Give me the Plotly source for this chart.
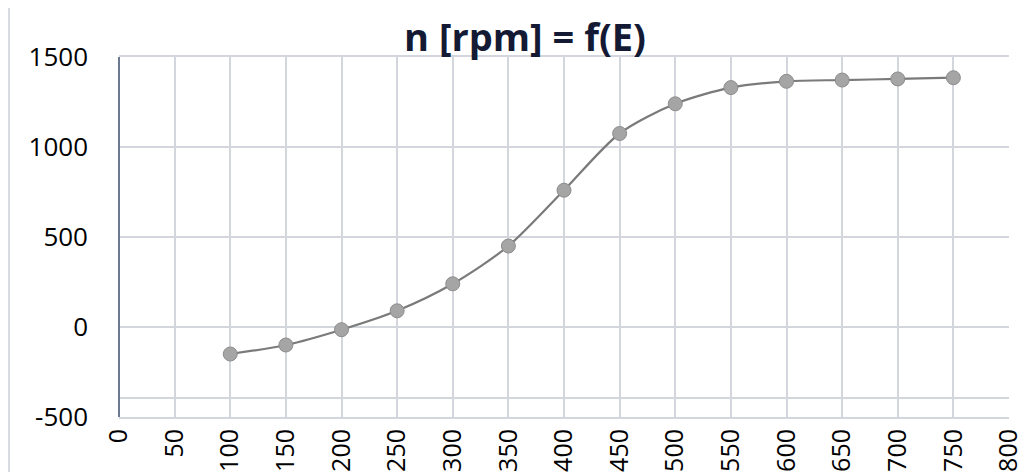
import plotly.graph_objects as go

E_values = [100, 150, 200, 250, 300, 350, 400, 450, 500, 550, 600, 650, 700, 750]
n_rpm = [-150, -100, -15, 90, 240, 450, 760, 1075, 1240, 1330, 1365, 1372, 1378, 1385]
x_ticks = list(range(0, 801, 50))
y_ticks = [-500, 0, 500, 1000, 1500]
title_text = "n [rpm] = f(E)"

grid = "#d3d6dd"
W, H = 1020, 464  # page has 8px body margin

fig = go.Figure()
fig.add_trace(go.Scatter(
    x=E_values, y=n_rpm, mode="lines+markers",
    line=dict(color="#7a7a7a", width=2.2, shape="spline", smoothing=0.8),
    marker=dict(size=14, color="#a5a5a5", line=dict(color="#8c8c8c", width=1)),
    showlegend=False,
))

fig.update_layout(
    width=W, height=H,
    margin=dict(l=111, r=19, t=49, b=55, autoexpand=False),
    paper_bgcolor="white", plot_bgcolor="white",
    title=dict(text="<b>" + title_text + "</b>", x=517 / W, xanchor="center",
               y=1 - 30 / H, yanchor="middle", automargin=False,
               font=dict(family="Open Sans", size=38, color="#141a33")),
    font=dict(family="Open Sans", color="black"),
)
fig.update_xaxes(
    range=[0, 800], tickvals=x_ticks, ticktext=[str(v) for v in x_ticks],
    tickangle=-90, tickfont=dict(size=25, color="black"), automargin=False,
    ticklabelstandoff=0,
    showgrid=True, gridcolor=grid, gridwidth=2,
    showline=True, linecolor=grid, linewidth=2, mirror=True,
    zeroline=False, ticks="",
)
fig.update_yaxes(
    range=[-500, 1500], tickvals=y_ticks, ticktext=[str(v) for v in y_ticks],
    tickfont=dict(size=26, color="black"), ticklabelstandoff=30, automargin=False,
    showgrid=True, gridcolor=grid, gridwidth=2,
    showline=False, zeroline=False, ticks="",
)
# left axis line (darker) and chart-area border on the far left
fig.add_shape(type="line", xref="paper", yref="paper", x0=0, x1=0, y0=0, y1=1,
              line=dict(color="#6b7a90", width=2))
fig.add_shape(type="line", xref="paper", yref="paper", x0=0, x1=1, y0=0.053, y1=0.053,
              line=dict(color=grid, width=2), layer="below")
fig.add_shape(type="line", xref="paper", yref="paper", x0=-0.1236, x1=-0.1236, y0=-0.16, y1=1.2,
              line=dict(color="#d8dbe2", width=2))

fig.write_html("out.html")
